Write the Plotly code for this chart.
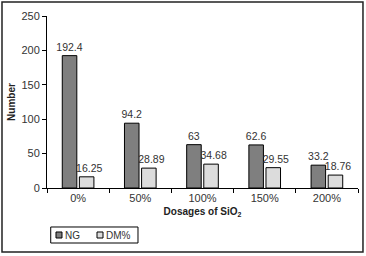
import plotly.graph_objects as go

categories = ["0%", "50%", "100%", "150%", "200%"]
ng_values = [192.4, 94.2, 63, 62.6, 33.2]
dm_values = [16.25, 28.89, 34.68, 29.55, 18.76]
series_names = ["NG", "DM%"]
series_colors = ["#7f7f7f", "#dcdcdc"]

FONT = "Liberation Sans Narrow, Arial Narrow, Liberation Sans, Arial"

fig = go.Figure()
fig.add_trace(go.Bar(
    x=categories, y=ng_values, name=series_names[0],
    marker=dict(color=series_colors[0], line=dict(color="#000000", width=1)),
    text=[f"{v:g}" for v in ng_values], textposition="outside", constraintext="none",
    textfont=dict(size=10.5, color="#333333", family=FONT), cliponaxis=False,
))
fig.add_trace(go.Bar(
    x=categories, y=dm_values, name=series_names[1],
    marker=dict(color=series_colors[1], line=dict(color="#000000", width=1)),
    text=[f"\u2002{v:g}" for v in dm_values], textposition="outside", constraintext="none",
    textfont=dict(size=10.5, color="#333333", family=FONT), cliponaxis=False,
))

# hand-drawn compact legend (boxed), matching the reference
shapes = [
    dict(type="rect", xref="paper", yref="paper",
         x0=-0.1447, x1=1.016, y0=-0.372, y1=1.081,
         line=dict(color="#222222", width=1.5), layer="below"),
    dict(type="rect", xref="paper", yref="paper",
         x0=0.012, x1=0.2926, y0=-0.3198, y1=-0.2267,
         line=dict(color="#000000", width=1), fillcolor="white"),
]
annotations = []
legend_x = [0.0289, 0.1608]
for name, color, lx in zip(series_names, series_colors, legend_x):
    shapes.append(dict(type="rect", xref="paper", yref="paper",
                       x0=lx, x1=lx + 0.0193, y0=-0.2907, y1=-0.2558,
                       line=dict(color="#000000", width=1), fillcolor=color))
    annotations.append(dict(xref="paper", yref="paper", x=lx + 0.0235, y=-0.2733,
                            text=name, showarrow=False, xanchor="left", yanchor="middle",
                            font=dict(size=10, family=FONT, color="#333333")))

fig.update_layout(
    width=366, height=256,
    margin=dict(l=47, r=8, t=16, b=68),
    paper_bgcolor="white", plot_bgcolor="white",
    barmode="group", bargap=0.45, bargroupgap=0.15,
    font=dict(family=FONT, size=11, color="#333333"),
    showlegend=False,
    shapes=shapes, annotations=annotations,
)
fig.update_xaxes(
    showline=True, linecolor="#000000", linewidth=1,
    ticks="outside", tickson="boundaries", ticklen=4, tickcolor="#000000",
    tickfont=dict(size=11, family=FONT, color="#333333"),
    title=dict(text="<b>Dosages of SiO<sub>2</sub></b>", standoff=4,
               font=dict(size=10, family="Liberation Sans, Arial", color="#222222")),
    showgrid=False,
)
fig.update_yaxes(
    range=[0, 250], dtick=50,
    showline=True, linecolor="#000000", linewidth=1,
    ticks="outside", ticklen=4, tickcolor="#000000",
    tickfont=dict(size=11, family=FONT, color="#333333"),
    title=dict(text="<b>Number</b>", standoff=3,
               font=dict(size=10, family="Liberation Sans, Arial", color="#222222")),
    showgrid=False, zeroline=False,
)

fig.write_html("out.html", config={"displayModeBar": False},
               post_script="document.body.style.margin='0';document.body.style.overflow='hidden';")
